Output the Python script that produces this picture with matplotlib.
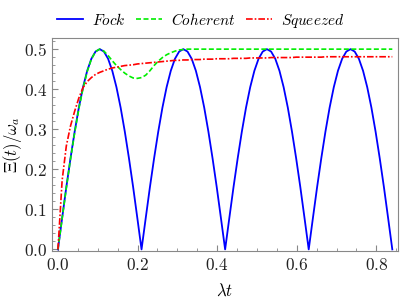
import numpy as np
import matplotlib
matplotlib.use("Agg")
import matplotlib.pyplot as plt
from matplotlib.ticker import MultipleLocator, FuncFormatter

plt.rcParams["mathtext.fontset"] = "cm"

# time grid (lambda t), step 0.0105
lam_t = np.linspace(0, 0.84, 81)

half = [0.000, 0.078, 0.155, 0.227, 0.294, 0.354, 0.405, 0.446, 0.476, 0.494,
        0.500, 0.494, 0.476, 0.446, 0.405, 0.354, 0.294, 0.227, 0.155, 0.078]
fock = half * 4 + [0.000]

coherent = [0.000, 0.077, 0.153, 0.225, 0.291, 0.351, 0.402, 0.444, 0.475, 0.494,
            0.500, 0.495, 0.484, 0.471, 0.459, 0.449, 0.440, 0.433, 0.428, 0.427,
            0.429, 0.435, 0.446, 0.459, 0.470, 0.479, 0.486, 0.491, 0.495, 0.498,
            0.499] + [0.500] * 50

squeezed = [0.000, 0.172, 0.258, 0.308, 0.345, 0.378, 0.404, 0.419, 0.429, 0.437,
            0.442, 0.446, 0.450, 0.453, 0.455, 0.457, 0.459, 0.460, 0.461, 0.463,
            0.464, 0.465, 0.466, 0.467, 0.468, 0.469, 0.470, 0.471, 0.472, 0.472,
            0.473, 0.473, 0.474, 0.474, 0.474, 0.475, 0.475, 0.475, 0.476, 0.476,
            0.476, 0.476, 0.477, 0.477, 0.477, 0.477, 0.478, 0.478, 0.478, 0.478,
            0.478, 0.479, 0.479, 0.479, 0.479, 0.479, 0.479, 0.480, 0.480, 0.480,
            0.480, 0.480, 0.480, 0.480] + [0.481] * 17

fig = plt.figure(figsize=(4.06, 3.05), dpi=100)
ax = fig.add_axes([0.128, 0.177, 0.852, 0.698])

ax.plot(lam_t, fock, color="#0000ff", lw=1.3, label=r"$Fock$")
ax.plot(lam_t, coherent, color="#00ee00", lw=1.2, ls=(0, (3, 1.5)), label=r"$Coherent$")
ax.plot(lam_t, squeezed, color="#ff0000", lw=1.2, ls=(0, (4, 1.2, 1, 1.2)), label=r"$Squeezed$")

ax.set_xlim(-0.015, 0.854)
ax.set_ylim(-0.004, 0.5275)

ax.xaxis.set_major_locator(MultipleLocator(0.2))
ax.xaxis.set_minor_locator(MultipleLocator(0.05))
ax.yaxis.set_major_locator(MultipleLocator(0.1))
ax.yaxis.set_minor_locator(MultipleLocator(0.02))
fmt = FuncFormatter(lambda v, p: r"$%.1f$" % v)
ax.xaxis.set_major_formatter(fmt)
ax.yaxis.set_major_formatter(fmt)

ax.tick_params(which="both", direction="in", colors="#888888", labelcolor="#222222",
               labelsize=12.5, top=False, right=False)
ax.tick_params(which="major", length=4)
ax.tick_params(which="minor", length=2.5)
for s in ax.spines.values():
    s.set_color("#888888")

ax.set_xlabel(r"$\lambda t$", fontsize=12)
ax.set_ylabel(r"$\Xi(t)/\omega_a$", fontsize=12)
ax.xaxis.set_label_coords(0.5, -0.145)
ax.yaxis.set_label_coords(-0.082, 0.5)

ax.legend(loc="lower center", bbox_to_anchor=(0.43, 1.0), ncol=3, frameon=False,
          fontsize=11, handlelength=1.7, handletextpad=0.6, columnspacing=0.7,
          borderaxespad=0.15)

fig.savefig("out.png", dpi=100)
